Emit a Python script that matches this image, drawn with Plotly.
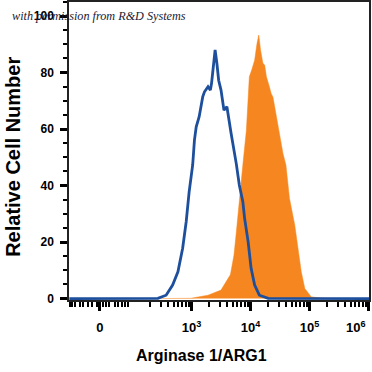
import math
import plotly.graph_objects as go

# x values are in display decades (3 = 10^3, 4 = 10^4, ...); y = relative cell number
control_x = [0.93, 1.5, 2.0, 2.14, 2.43, 2.57, 2.68, 2.77, 2.85, 2.91, 2.96, 3.02, 3.05, 3.08,
             3.13, 3.19, 3.22, 3.28, 3.32, 3.34, 3.40, 3.43, 3.46, 3.50, 3.55, 3.60, 3.63,
             3.67, 3.76, 3.81, 3.87, 3.90, 3.96, 4.01, 4.07, 4.15, 4.30, 5.0, 6.01]
control_y = [0, 0, 0, 0, 0.1, 1.2, 4.8, 9.5, 17.8, 27.2, 37.8, 47.3, 56.1, 60.8,
             64.4, 71.4, 73.2, 75.0, 73.8, 76.2, 88.0, 83.3, 77.3, 73.8, 66.7, 67.9, 64.4,
             58.6, 47.6, 40.2, 34.3, 28.4, 20.1, 10.7, 4.8, 1.2, 0.1, 0, 0]

arg1_x = [2.43, 2.99, 3.28, 3.50, 3.66, 3.72, 3.76, 3.81, 3.87, 3.93, 3.96, 3.98, 4.02,
          4.07, 4.11, 4.14, 4.17, 4.21, 4.24, 4.27, 4.32, 4.35, 4.38, 4.44, 4.49, 4.55,
          4.60, 4.66, 4.75, 4.81, 4.86, 4.92, 5.03, 5.20, 5.37]
arg1_y = [0, 0.1, 1.2, 3.0, 8.5, 15.4, 23.6, 35.5, 47.3, 59.6, 71.4, 78.5, 80.9,
          84.4, 90.3, 93.3, 88.0, 83.3, 82.7, 78.5, 75.0, 72.6, 71.4, 64.4, 57.3, 51.4,
          47.3, 35.5, 26.0, 17.8, 9.5, 3.6, 0.6, 0.2, 0]

x_tick_vals = [1.449, 3, 4, 5, 6]
x_tick_text = ["0", "10<sup>3</sup>", "10<sup>4</sup>", "10<sup>5</sup>",
               "10<sup>6</sup>" + "&nbsp;" * 7]
y_tick_vals = [0, 20, 40, 60, 80, 100]

# minor ticks: linear region around zero plus log-spaced ticks in each decade
lin_minor = [0.941, 0.969, 1.025, 1.110, 1.166, 1.251, 1.308, 1.393, 1.5, 1.551, 1.602,
             1.703, 1.754, 1.817, 1.873, 1.929]
log_minor = [d + math.log10(k) for d in (2, 3, 4, 5) for k in range(2, 10)]
x_minor = lin_minor + log_minor

ORANGE = "#f6861f"
BLUE = "#1d4f9c"
FONT = "Liberation Sans, Arial, sans-serif"

fig = go.Figure()
fig.add_trace(go.Scatter(x=arg1_x, y=arg1_y, mode="lines", fill="tozeroy",
                         fillcolor=ORANGE, line=dict(color=ORANGE, width=0.5),
                         hoverinfo="skip", showlegend=False))
fig.add_trace(go.Scatter(x=control_x, y=control_y, mode="lines",
                         line=dict(color=BLUE, width=2.8),
                         hoverinfo="skip", showlegend=False))

fig.update_layout(
    width=372, height=372,
    margin=dict(l=69, r=3, t=2, b=72),
    paper_bgcolor="white", plot_bgcolor="white",
    font=dict(family=FONT, color="black"),
    xaxis=dict(range=[0.924, 6.008], tickmode="array", tickvals=x_tick_vals,
               ticktext=x_tick_text, ticks="outside", ticklen=9, tickwidth=2.5,
               tickcolor="black", showline=True, linecolor="#222", linewidth=1.5,
               mirror=True, showgrid=False, zeroline=False, automargin=False,
               tickfont=dict(size=13, weight="bold"), ticklabelstandoff=6,
               ticklabeloverflow="allow",
               minor=dict(tickmode="array", tickvals=x_minor, ticks="outside",
                          ticklen=5, tickwidth=1.5, tickcolor="black", showgrid=False)),
    yaxis=dict(range=[-0.5, 105], tickmode="array", tickvals=y_tick_vals,
               ticks="outside", ticklen=7, tickwidth=3, tickcolor="black",
               showline=True, linecolor="#222", linewidth=1.5, mirror=True,
               showgrid=False, zeroline=False, automargin=False,
               tickfont=dict(size=12, weight="bold"), ticklabelstandoff=4,
               minor=dict(dtick=5, tick0=0, ticks="outside", ticklen=4, tickwidth=1.5,
                          tickcolor="black", showgrid=False)),
    annotations=[
        dict(text="Arginase 1/ARG1", xref="paper", yref="paper", x=0.443, y=-0.1846,
             xanchor="center", yanchor="middle", showarrow=False,
             font=dict(size=16, weight="bold", family=FONT)),
        dict(text="Relative Cell Number", xref="paper", yref="paper", x=-0.187, y=0.48,
             xanchor="center", yanchor="middle", textangle=-90, showarrow=False,
             font=dict(size=20, weight="bold", family=FONT)),
        dict(text="with permission from R&amp;D Systems", xref="paper", yref="paper",
             x=-0.197, y=0.953, xanchor="left", yanchor="middle", showarrow=False,
             font=dict(size=12.2, style="italic", family="Liberation Serif, serif",
                       color="#1a1a33")),
    ],
)

fig.write_html("out.html", config={"displayModeBar": False},
               post_script="document.body.style.margin='0px';")
